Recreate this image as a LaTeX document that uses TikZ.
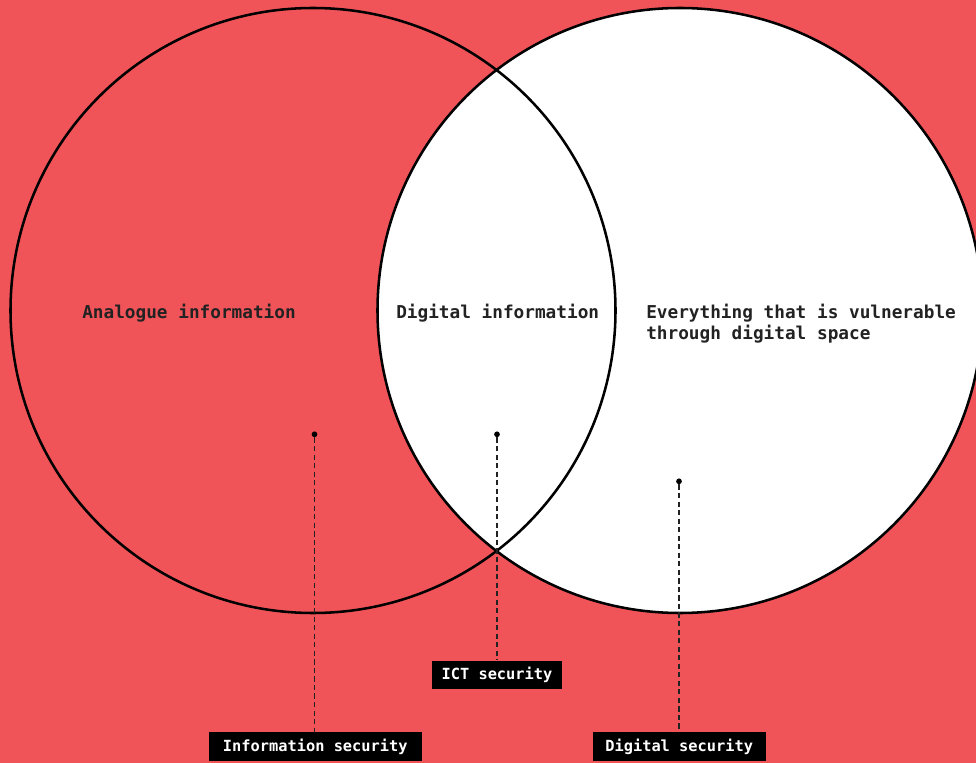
\documentclass[tikz,border=0pt]{standalone}
\usepackage{fontspec}
\setmonofont{DejaVu Sans Mono}
\definecolor{bgred}{HTML}{F05459}
\definecolor{ink}{HTML}{222222}
\begin{document}
\begin{tikzpicture}[x=0.75pt,y=-0.75pt,
  ring/.style={line width=1.9pt, draw=black},
  region/.style={font=\ttfamily\bfseries\fontsize{13.3}{15.75}\selectfont, text=ink,
    inner sep=0pt, anchor=west, align=left},
  pin/.style={circle, fill=black, inner sep=0pt, minimum size=4.3pt},
  leader/.style={dash pattern=on 3.9pt off 2.5pt, line width=1.1pt, draw=ink},
  tag/.style={fill=black, text=white, font=\ttfamily\bfseries\fontsize{11.5}{13}\selectfont,
    inner sep=0pt, minimum height=21.6pt}
]
% background
\fill[bgred] (0,0) rectangle (976,763);
\useasboundingbox (0,0) rectangle (976,763);

% the two overlapping sets
\begin{scope}
  \clip (0,0) rectangle (976,763);
  \fill[white] (680,310.5) circle[radius=302.5];
  \draw[ring] (313,310.5) circle[radius=302.5];
  \draw[ring] (680,310.5) circle[radius=302.5];
\end{scope}

% region labels
\node[region] (analogue) at (82,313.5) {Analogue information};
\node[region] (digital) at (396,313.5) {Digital information};
\node[region] (everything) at (646,323.5) {Everything that is vulnerable\\through digital space};

% pins inside the regions
\node[pin] (p1) at (314.5,434.3) {};
\node[pin] (p2) at (497,434.3) {};
\node[pin] (p3) at (679,481.3) {};

% security tags
\node[tag, minimum width=159.5pt] (t1) at (315.3,746.5) {Information security};
\node[tag, minimum width=97pt] (t2) at (497,675) {ICT security};
\node[tag, minimum width=129.8pt] (t3) at (679.2,746.5) {Digital security};

% leaders from pins to tags
\draw[leader] (p1) -- (p1 |- t1.north);
\draw[leader] (p2) -- (p2 |- t2.north);
\draw[leader] (p3) -- (p3 |- t3.north);
\end{tikzpicture}
\end{document}
